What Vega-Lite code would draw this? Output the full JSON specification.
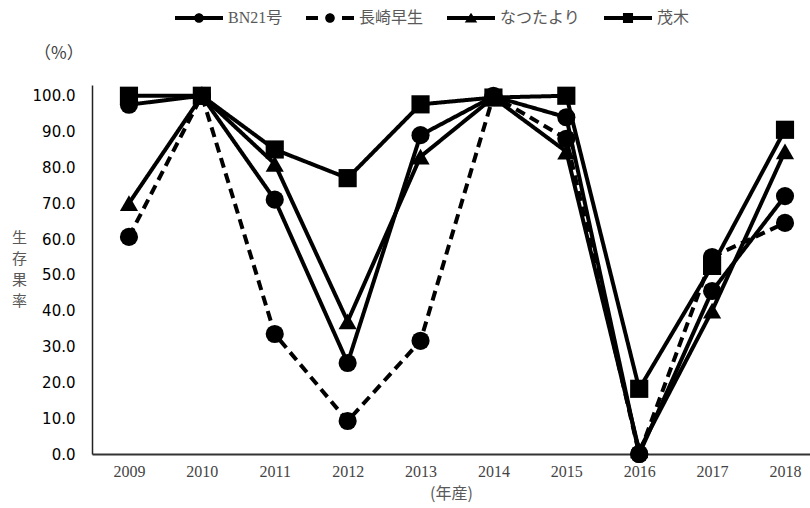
{
  "$schema": "https://vega.github.io/schema/vega-lite/v6.json",
  "width": 718,
  "height": 369,
  "autosize": {"type": "none"},
  "padding": {"left": 92, "top": 85, "right": 0, "bottom": 54},
  "background": "white",
  "title": {
    "text": "（%）",
    "orient": "top",
    "anchor": "start",
    "frame": "group",
    "font": "Noto Sans CJK JP",
    "fontSize": 17,
    "fontWeight": "normal",
    "color": "#404040",
    "baseline": "middle",
    "dx": -58,
    "dy": 77,
    "offset": 0
  },
  "data": {
    "values": [
      {"品種": "BN21号", "年": 2009, "生存果率": 97.5},
      {"品種": "BN21号", "年": 2010, "生存果率": 100},
      {"品種": "BN21号", "年": 2011, "生存果率": 71},
      {"品種": "BN21号", "年": 2012, "生存果率": 25.4},
      {"品種": "BN21号", "年": 2013, "生存果率": 89},
      {"品種": "BN21号", "年": 2014, "生存果率": 99.8},
      {"品種": "BN21号", "年": 2015, "生存果率": 94},
      {"品種": "BN21号", "年": 2016, "生存果率": 0},
      {"品種": "BN21号", "年": 2017, "生存果率": 45.5},
      {"品種": "BN21号", "年": 2018, "生存果率": 72},
      {"品種": "長崎早生", "年": 2009, "生存果率": 60.6},
      {"品種": "長崎早生", "年": 2010, "生存果率": 100},
      {"品種": "長崎早生", "年": 2011, "生存果率": 33.5},
      {"品種": "長崎早生", "年": 2012, "生存果率": 9.2},
      {"品種": "長崎早生", "年": 2013, "生存果率": 31.6},
      {"品種": "長崎早生", "年": 2014, "生存果率": 100},
      {"品種": "長崎早生", "年": 2015, "生存果率": 88},
      {"品種": "長崎早生", "年": 2016, "生存果率": 0},
      {"品種": "長崎早生", "年": 2017, "生存果率": 55},
      {"品種": "長崎早生", "年": 2018, "生存果率": 64.5},
      {"品種": "なつたより", "年": 2009, "生存果率": 70},
      {"品種": "なつたより", "年": 2010, "生存果率": 100},
      {"品種": "なつたより", "年": 2011, "生存果率": 81},
      {"品種": "なつたより", "年": 2012, "生存果率": 37},
      {"品種": "なつたより", "年": 2013, "生存果率": 83},
      {"品種": "なつたより", "年": 2014, "生存果率": 99.5},
      {"品種": "なつたより", "年": 2015, "生存果率": 84.4},
      {"品種": "なつたより", "年": 2016, "生存果率": 1},
      {"品種": "なつたより", "年": 2017, "生存果率": 40},
      {"品種": "なつたより", "年": 2018, "生存果率": 84.5},
      {"品種": "茂木", "年": 2009, "生存果率": 100},
      {"品種": "茂木", "年": 2010, "生存果率": 100},
      {"品種": "茂木", "年": 2011, "生存果率": 85},
      {"品種": "茂木", "年": 2012, "生存果率": 77},
      {"品種": "茂木", "年": 2013, "生存果率": 97.6},
      {"品種": "茂木", "年": 2014, "生存果率": 99.5},
      {"品種": "茂木", "年": 2015, "生存果率": 100},
      {"品種": "茂木", "年": 2016, "生存果率": 18.2},
      {"品種": "茂木", "年": 2017, "生存果率": 52.5},
      {"品種": "茂木", "年": 2018, "生存果率": 90.5}
    ]
  },
  "encoding": {
    "x": {
      "field": "年",
      "type": "quantitative",
      "scale": {"domain": [2008.493, 2018.343], "nice": false, "zero": false},
      "axis": {
        "values": [2009, 2010, 2011, 2012, 2013, 2014, 2015, 2016, 2017, 2018],
        "format": "d",
        "grid": false,
        "ticks": false,
        "domainColor": "#333333",
        "domainWidth": 2,
        "labelFont": "Liberation Serif",
        "labelFontSize": 16,
        "labelColor": "#444444",
        "labelPadding": 9,
        "labelFlush": false,
        "labelOverlap": false,
        "title": "(年産)",
        "titleFont": "Noto Sans CJK JP",
        "titleFontSize": 16,
        "titleFontWeight": "normal",
        "titleColor": "#595959",
        "titlePadding": 6
      }
    },
    "y": {
      "field": "生存果率",
      "type": "quantitative",
      "scale": {"domain": [0, 103], "nice": false},
      "axis": {
        "values": [0, 10, 20, 30, 40, 50, 60, 70, 80, 90, 100],
        "format": ".1f",
        "grid": false,
        "ticks": false,
        "domainColor": "#222222",
        "domainWidth": 1.5,
        "labelFont": "DejaVu Sans",
        "labelFontSize": 15,
        "labelColor": "#000000",
        "labelPadding": 17,
        "labelFlush": false,
        "labelOverlap": false,
        "title": ["生", "存", "果", "率"],
        "titleFont": "Noto Sans CJK JP",
        "titleFontSize": 15,
        "titleFontWeight": "normal",
        "titleColor": "#595959",
        "titleAngle": 0,
        "titleAlign": "center",
        "titleBaseline": "top",
        "titleLineHeight": 21,
        "titleX": -73,
        "titleY": 145
      }
    }
  },
  "layer": [
    {
      "mark": {"type": "line", "color": "black", "strokeWidth": 4, "strokeJoin": "round", "strokeCap": "butt"},
      "encoding": {
        "strokeDash": {
          "field": "品種",
          "type": "nominal",
          "scale": {
            "domain": ["BN21号", "長崎早生", "なつたより", "茂木"],
            "range": [[1, 0], [10, 6], [1, 0], [1, 0]]
          },
          "legend": null
        }
      }
    },
    {
      "mark": {"type": "point", "filled": true, "color": "black", "opacity": 1, "strokeWidth": 0},
      "encoding": {
        "shape": {
          "field": "品種",
          "type": "nominal",
          "scale": {
            "domain": ["BN21号", "長崎早生", "なつたより", "茂木"],
            "range": ["circle", "circle", "triangle-up", "square"]
          },
          "legend": null
        },
        "size": {
          "field": "品種",
          "type": "nominal",
          "scale": {
            "domain": ["BN21号", "長崎早生", "なつたより", "茂木"],
            "range": [330, 330, 430, 400]
          },
          "legend": null
        }
      }
    },
    {
      "transform": [{"filter": "false"}],
      "mark": {"type": "point", "filled": true, "color": "black", "opacity": 1, "strokeWidth": 0},
      "encoding": {
        "shape": {
          "field": "品種",
          "type": "nominal",
          "scale": {
            "domain": ["BN21号", "長崎早生", "なつたより", "茂木"],
            "range": [
              "M-1,-0.083H1V0.083H-1Z M0.2,0A0.2,0.2 0 1 1 -0.2,0A0.2,0.2 0 1 1 0.2,0Z",
              "M-1,-0.083H-0.5V0.083H-1Z M0.5,-0.083H1V0.083H0.5Z M0.2,0A0.2,0.2 0 1 1 -0.2,0A0.2,0.2 0 1 1 0.2,0Z",
              "M-1,-0.083H1V0.083H-1Z M0,-0.22L0.26,0.19L-0.26,0.19Z",
              "M-1,-0.083H1V0.083H-1Z M-0.21,-0.21H0.21V0.21H-0.21Z"
            ]
          },
          "legend": {
            "orient": "none",
            "direction": "horizontal",
            "legendX": 83,
            "legendY": -91,
            "title": null,
            "padding": 0,
            "symbolSize": 2304,
            "symbolStrokeWidth": 0,
            "symbolFillColor": "black",
            "symbolOpacity": 1,
            "labelOffset": 5,
            "columnPadding": 23,
            "labelFont": "Liberation Serif, Noto Sans CJK JP",
            "labelFontSize": 16,
            "labelColor": "#595959",
            "labelLimit": 200
          }
        }
      }
    }
  ],
  "resolve": {"scale": {"shape": "independent"}, "legend": {"shape": "independent"}},
  "config": {
    "view": {"stroke": null},
    "axis": {"grid": false}
  }
}
